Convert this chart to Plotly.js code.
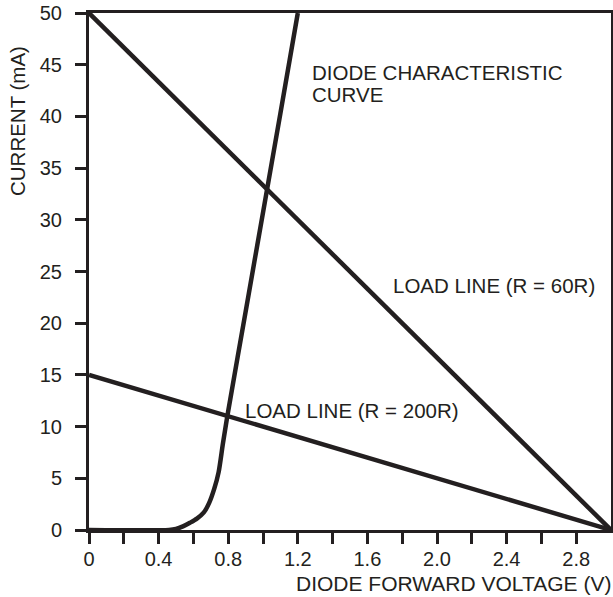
<!DOCTYPE html>
<html>
<head>
<meta charset="utf-8">
<script src="https://cdn.plot.ly/plotly-3.0.1.min.js"></script>
<style>html,body{margin:0;padding:0;background:#fff;}#chart{width:613px;height:597px;}</style>
</head>
<body>
<div id="chart"></div>
<script>
// Diode characteristic curve (V, mA)
const diodeV = [0, 0.46, 0.5, 0.54, 0.58, 0.62, 0.66, 0.69, 0.72, 0.745, 0.77, 0.8, 0.9, 1.0, 1.1, 1.2];
const diodeI = [0, 0, 0.1, 0.35, 0.7, 1.1, 1.7, 2.6, 4.0, 5.6, 8.4, 11.5, 21.1, 30.7, 40.3, 50];
// Load line R = 60R
const load60V = [0, 3.0];
const load60I = [50, 0];
// Load line R = 200R
const load200V = [0, 3.0];
const load200I = [15, 0];
// Axis ticks
const xTickVals = [0, 0.2, 0.4, 0.6, 0.8, 1.0, 1.2, 1.4, 1.6, 1.8, 2.0, 2.2, 2.4, 2.6, 2.8];
const xTickText = ["0", "", "0.4", "", "0.8", "", "1.2", "", "1.6", "", "2.0", "", "2.4", "", "2.8"];
const yTickVals = [0, 5, 10, 15, 20, 25, 30, 35, 40, 45, 50];

const ink = '#231f20';
const lineStyle = {color: ink, width: 4.5};

const traces = [
  {x: diodeV, y: diodeI, mode: 'lines', line: Object.assign({shape: 'spline', smoothing: 0.8}, lineStyle), hoverinfo: 'skip'},
  {x: load60V, y: load60I, mode: 'lines', line: lineStyle, hoverinfo: 'skip'},
  {x: load200V, y: load200I, mode: 'lines', line: lineStyle, hoverinfo: 'skip'}
];

const fam = 'Liberation Sans, Arial, sans-serif';
const tickFont = {family: fam, size: 20, color: ink};
const titleFont = {family: fam, size: 21, color: ink};
const noteFont = {family: fam, size: 20.5, color: ink};

const layout = {
  width: 613, height: 597,
  margin: {l: 89, r: 2, t: 13, b: 67},
  paper_bgcolor: '#fff', plot_bgcolor: '#fff',
  showlegend: false,
  font: tickFont,
  xaxis: {
    range: [0, 3.0], showgrid: false, zeroline: false,
    showline: true, linecolor: ink, linewidth: 3, mirror: true,
    ticks: 'outside', ticklen: 11, tickwidth: 3, tickcolor: ink,
    tickvals: xTickVals, ticktext: xTickText,
    tickfont: tickFont, ticklabelstandoff: -2
  },
  yaxis: {
    range: [0, 50], showgrid: false, zeroline: false,
    showline: true, linecolor: ink, linewidth: 3, mirror: true,
    ticks: 'outside', ticklen: 11, tickwidth: 3, tickcolor: ink,
    tickvals: yTickVals,
    tickfont: tickFont, ticklabelstandoff: 9
  },
  annotations: [
    {xref: 'paper', yref: 'paper', x: 1.004, y: -0.104, xanchor: 'right', yanchor: 'middle',
     text: 'DIODE FORWARD VOLTAGE (V)', showarrow: false, font: titleFont},
    {xref: 'paper', yref: 'paper', x: -0.138, y: 0.791, xanchor: 'center', yanchor: 'middle',
     text: 'CURRENT (mA)', textangle: -90, showarrow: false, font: {family: fam, size: 20.5, color: ink}},
    {xref: 'x', yref: 'y', x: 1.27, y: 44.25, xanchor: 'left', yanchor: 'middle',
     text: 'DIODE CHARACTERISTIC', showarrow: false, font: noteFont},
    {xref: 'x', yref: 'y', x: 1.27, y: 42.1, xanchor: 'left', yanchor: 'middle',
     text: 'CURVE', showarrow: false, font: noteFont},
    {xref: 'x', yref: 'y', x: 1.736, y: 23.65, xanchor: 'left', yanchor: 'middle',
     text: 'LOAD LINE (R = 60R)', showarrow: false, font: noteFont},
    {xref: 'x', yref: 'y', x: 0.885, y: 11.56, xanchor: 'left', yanchor: 'middle',
     text: 'LOAD LINE (R = 200R)', showarrow: false, font: noteFont}
  ]
};

Plotly.newPlot('chart', traces, layout, {staticPlot: true, displayModeBar: false});
</script>
</body>
</html>
